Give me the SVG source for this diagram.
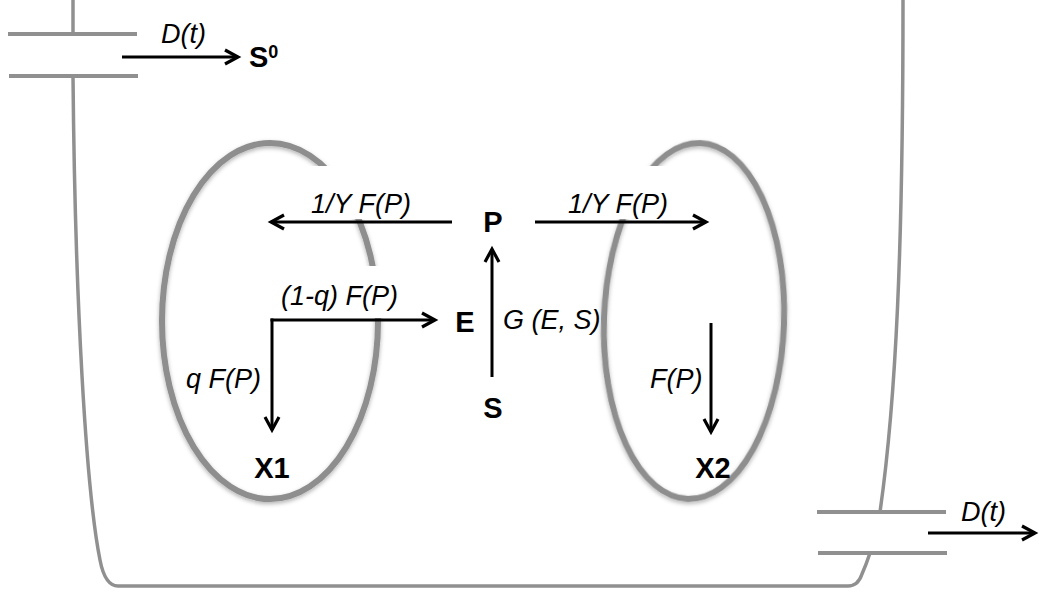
<svg xmlns="http://www.w3.org/2000/svg" width="1039" height="592" viewBox="0 0 1039 592">
<style>
.wall{fill:none;stroke:#909090;stroke-width:3.5;stroke-linecap:butt}
.pipe{fill:none;stroke:#909090;stroke-width:4}
.cell{fill:none;stroke:#8e8e8e;stroke-width:6}
.arr{fill:none;stroke:#000;stroke-width:3}
.lbl{font-family:"Liberation Sans",Arial,sans-serif;font-style:italic;font-size:27px;fill:#000}
.sp{font-family:"Liberation Sans",Arial,sans-serif;font-weight:bold;font-size:29px;fill:#000}
.mask{fill:#fff}
</style>
<defs>
<marker id="ah" markerUnits="userSpaceOnUse" viewBox="-18 -10 22 20" refX="0" refY="0" markerWidth="22" markerHeight="20" orient="auto">
<path d="M-13,-7 L0,0 L-13,7" fill="none" stroke="#000" stroke-width="3.2" stroke-linejoin="miter"/>
</marker>
<filter id="sh" x="-10%" y="-10%" width="120%" height="120%">
<feDropShadow dx="0" dy="2" stdDeviation="2" flood-color="#000" flood-opacity="0.3"/>
</filter>
</defs>

<g id="vessel">
<path class="wall" d="M73,0 L73,34"/>
<path class="pipe" d="M8,34 L137,34"/>
<path class="pipe" d="M9,76 L138,76"/>
<path class="wall" d="M73,76 C75,300 86,490 100,560 Q105,586 118,586 L848,586 Q858,586 862,574 Q866,565 870,553"/>
<path class="wall" d="M903,0 C903,250 896,400 880,512"/>
<path class="pipe" d="M817,512 L946,512"/>
<path class="pipe" d="M818,553 L947,553"/>
</g>

<g id="cell1">
<ellipse class="cell" cx="270" cy="321" rx="108" ry="178" filter="url(#sh)"/>
</g>
<g id="cell2">
<ellipse class="cell" cx="694" cy="321" rx="90" ry="178" transform="rotate(2 694 321)" filter="url(#sh)"/>
</g>

<g id="label-masks">
<rect class="mask" x="305" y="166" width="145" height="53"/>
<rect class="mask" x="540" y="166" width="140" height="53"/>
<rect class="mask" x="278" y="266" width="130" height="52"/>
</g>

<g id="connectors">
<line class="arr" x1="122" y1="57" x2="238" y2="57" marker-end="url(#ah)"/>
<line class="arr" x1="928" y1="533" x2="1035" y2="533" marker-end="url(#ah)"/>
<line class="arr" x1="452" y1="222" x2="271" y2="222" marker-end="url(#ah)"/>
<line class="arr" x1="535" y1="222" x2="706" y2="222" marker-end="url(#ah)"/>
<line class="arr" x1="270.5" y1="320" x2="435" y2="320" marker-end="url(#ah)"/>
<line class="arr" x1="272" y1="318.5" x2="272" y2="430" marker-end="url(#ah)"/>
<line class="arr" x1="492" y1="377" x2="492" y2="249" marker-end="url(#ah)"/>
<line class="arr" x1="711" y1="323" x2="711" y2="432" marker-end="url(#ah)"/>
</g>

<g id="labels">
<text class="lbl" x="161" y="43">D(t)</text>
<text class="lbl" x="961" y="521">D(t)</text>
<text class="lbl" x="311" y="213">1/Y F(P)</text>
<text class="lbl" x="568" y="213">1/Y F(P)</text>
<text class="lbl" x="281" y="305">(1-q) F(P)</text>
<text class="lbl" x="186" y="388">q F(P)</text>
<text class="lbl" x="503" y="329">G (E, S)</text>
<text class="lbl" x="650" y="388">F(P)</text>
</g>

<g id="node-S0"><text class="sp" x="249" y="67" font-size="27">S<tspan font-size="18" dy="-9">0</tspan></text></g>
<g id="node-P"><text class="sp" x="493" y="232" text-anchor="middle">P</text></g>
<g id="node-E"><text class="sp" x="465" y="332" text-anchor="middle">E</text></g>
<g id="node-S"><text class="sp" x="493" y="418" text-anchor="middle">S</text></g>
<g id="node-X1"><text class="sp" x="272" y="478" text-anchor="middle">X1</text></g>
<g id="node-X2"><text class="sp" x="713" y="478" text-anchor="middle">X2</text></g>
</svg>
